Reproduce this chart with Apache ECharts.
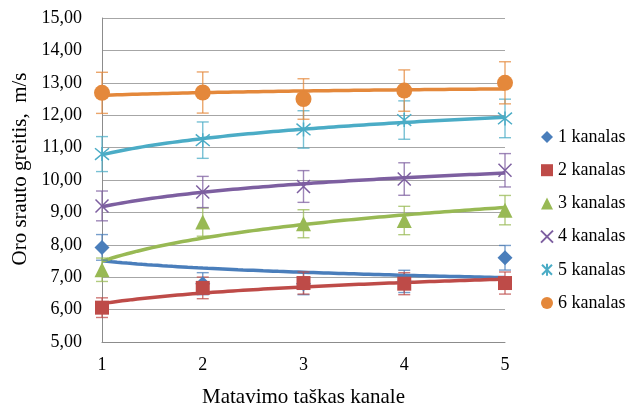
<!DOCTYPE html>
<html>
<head>
<meta charset="utf-8">
<script src="https://cdn.jsdelivr.net/npm/echarts@6/dist/echarts.min.js"></script>
<style>
  html, body { margin: 0; padding: 0; background: #fff; }
  #chart { width: 643px; height: 410px; }
</style>
</head>
<body>
<div id="chart"></div>
<script>
// Measuring points along the channel
const points = [1, 2, 3, 4, 5];
// Air flow velocity, m/s, per channel
const kanalas1 = [7.92, 6.80, 6.80, 6.87, 7.60];
const kanalas2 = [6.06, 6.67, 6.82, 6.80, 6.82];
const kanalas3 = [7.23, 8.70, 8.65, 8.75, 9.07];
const kanalas4 = [9.20, 9.63, 9.80, 10.03, 10.30];
const kanalas5 = [10.80, 11.23, 11.56, 11.85, 11.90];
const kanalas6 = [12.69, 12.70, 12.50, 12.76, 13.00];
const seriesNames = ['1 kanalas', '2 kanalas', '3 kanalas', '4 kanalas', '5 kanalas', '6 kanalas'];
// Relative error shown by the error bars
const errorShare = 0.05;
const yTicks = [5, 6, 7, 8, 9, 10, 11, 12, 13, 14, 15];

const allValues = [kanalas1, kanalas2, kanalas3, kanalas4, kanalas5, kanalas6];
const colors = ['#4A7EBB', '#BE4B48', '#98B954', '#7D5FA0', '#4BACC6', '#E4883B'];
const xPath = 'path://M0,0L10,10M10,0L0,10';
const starPath = 'path://M0,0L10,10M10,0L0,10M5,-1L5,11';
const symbols = ['diamond', 'rect', 'triangle', xPath, starPath, 'circle'];
const symbolSizes = [15, 14, 15, 13, 14, 16];
const fontFamily = "'Liberation Serif', 'Times New Roman', serif";

// Least-squares logarithmic trend y = a + b ln(x)
function logFit(xs, ys) {
  const lx = xs.map(Math.log);
  const n = xs.length;
  const mx = lx.reduce((s, v) => s + v, 0) / n;
  const my = ys.reduce((s, v) => s + v, 0) / n;
  let sxy = 0, sxx = 0;
  for (let i = 0; i < n; i++) {
    sxy += (lx[i] - mx) * (ys[i] - my);
    sxx += (lx[i] - mx) * (lx[i] - mx);
  }
  const b = sxy / sxx;
  const a = my - b * mx;
  const curve = [];
  for (let x = xs[0]; x <= xs[n - 1] + 1e-9; x += 0.05) {
    curve.push([x, a + b * Math.log(x)]);
  }
  return curve;
}

const series = [];
allValues.forEach((vals, i) => {
  // trend line
  series.push({
    name: seriesNames[i] + ' trend',
    type: 'line',
    data: logFit(points, vals),
    showSymbol: false,
    smooth: false,
    lineStyle: { color: colors[i], width: 3.5 },
    z: 2,
    silent: true
  });
  // error bars
  series.push({
    name: seriesNames[i] + ' error',
    type: 'custom',
    data: points.map((p, k) => [p, vals[k], vals[k] * errorShare]),
    renderItem: function (params, api) {
      const x = api.value(0), y = api.value(1), e = api.value(2);
      const top = api.coord([x, y + e]);
      const bot = api.coord([x, y - e]);
      const hw = 6;
      const style = { stroke: colors[i], lineWidth: 1.4, opacity: 0.75 };
      return {
        type: 'group',
        children: [
          { type: 'line', shape: { x1: top[0], y1: top[1], x2: bot[0], y2: bot[1] }, style: style },
          { type: 'line', shape: { x1: top[0] - hw, y1: top[1], x2: top[0] + hw, y2: top[1] }, style: style },
          { type: 'line', shape: { x1: bot[0] - hw, y1: bot[1], x2: bot[0] + hw, y2: bot[1] }, style: style }
        ]
      };
    },
    z: 3,
    silent: true
  });
  // measured points
  const isStroke = i === 3 || i === 4;
  series.push({
    name: seriesNames[i],
    type: 'scatter',
    data: points.map((p, k) => [p, vals[k]]),
    symbol: symbols[i],
    symbolSize: symbolSizes[i],
    itemStyle: isStroke
      ? { color: 'rgba(0,0,0,0)', borderColor: colors[i], borderWidth: 1.5, opacity: 1 }
      : { color: colors[i], opacity: 1 },
    z: 4
  });
});

const chart = echarts.init(document.getElementById('chart'), null, { renderer: 'canvas' });
chart.setOption({
  animation: false,
  backgroundColor: '#fff',
  textStyle: { fontFamily: fontFamily, color: '#000' },
  grid: { left: 102, right: 138, top: 18, bottom: 68, containLabel: false, outerBoundsMode: 'none' },
  legend: {
    data: seriesNames,
    orient: 'vertical',
    left: 535,
    top: 122,
    itemWidth: 12,
    itemHeight: 12,
    itemGap: 13.2,
    textStyle: { fontFamily: fontFamily, fontSize: 18, color: '#000', lineHeight: 20 }
  },
  xAxis: {
    type: 'value',
    min: 1,
    max: 5,
    interval: 1,
    name: 'Matavimo taškas kanale',
    nameLocation: 'middle',
    nameGap: 45,
    nameTextStyle: { fontFamily: fontFamily, fontSize: 21, color: '#000' },
    axisLine: { show: true, lineStyle: { color: '#8C8C8C', width: 1 } },
    axisTick: { show: false },
    splitLine: { show: false },
    axisLabel: { fontFamily: fontFamily, fontSize: 18, color: '#000', margin: 14, formatter: v => String(points.includes(v) ? v : '') }
  },
  yAxis: {
    type: 'value',
    min: yTicks[0],
    max: yTicks[yTicks.length - 1],
    interval: 1,
    name: 'Oro srauto greitis,  m/s',
    nameLocation: 'middle',
    nameGap: 66,
    nameTextStyle: { fontFamily: fontFamily, fontSize: 21, color: '#000', padding: [0, 0, 0, 22] },
    axisLine: { show: true, lineStyle: { color: '#8C8C8C', width: 1 } },
    axisTick: { show: false },
    splitLine: { show: true, lineStyle: { color: '#A6A6A6', width: 1 } },
    axisLabel: { fontFamily: fontFamily, fontSize: 18, color: '#000', margin: 20, formatter: v => v.toFixed(2).replace('.', ',') }
  },
  series: series
});
</script>
</body>
</html>
